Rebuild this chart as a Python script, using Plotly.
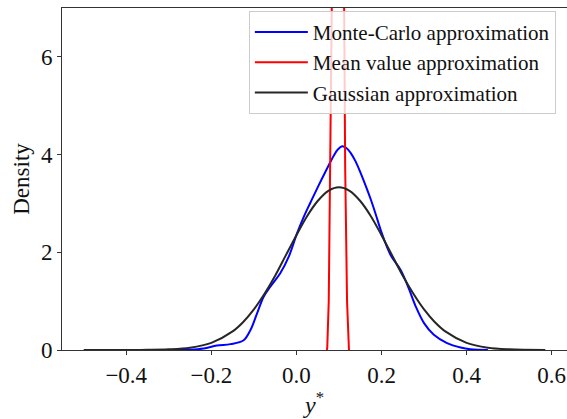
import plotly.graph_objects as go

# Monte-Carlo approximation (kernel density estimate of the samples)
mc_x = [-0.290, -0.250, -0.218, -0.187, -0.155, -0.124, -0.108, -0.0925, -0.077, -0.061,
        -0.038, -0.018, 0.0016, 0.017, 0.033, 0.050, 0.070, 0.088, 0.097, 0.1075,
        0.118, 0.127, 0.139, 0.1506, 0.162, 0.174, 0.186, 0.198, 0.221, 0.245,
        0.264, 0.280, 0.300, 0.323, 0.354, 0.386, 0.409, 0.450]
mc_y = [0.000, 0.005, 0.030, 0.090, 0.120, 0.200, 0.410, 0.750, 1.090, 1.300,
        1.570, 1.910, 2.390, 2.720, 3.020, 3.330, 3.680, 3.980, 4.100, 4.170,
        4.130, 4.040, 3.860, 3.630, 3.380, 3.100, 2.790, 2.460, 1.950, 1.640,
        1.260, 0.900, 0.550, 0.310, 0.140, 0.050, 0.015, 0.000]

# Mean value approximation (very narrow density)
mv_x = [0.0715, 0.0725, 0.0760, 0.0800, 0.0831, 0.0880, 0.0975, 0.1070, 0.1122,
        0.1146, 0.1190, 0.1224, 0.1235]
mv_y = [0.00, 0.05, 1.00, 3.75, 7.00, 18.0, 45.0, 18.0, 7.00, 3.75, 1.00, 0.05, 0.00]

# Gaussian approximation
ga_x = [-0.500, -0.400, -0.350, -0.300, -0.250, -0.200, -0.150, -0.125, -0.100, -0.075,
        -0.050, -0.025, 0.000, 0.025, 0.050, 0.075, 0.100, 0.125, 0.150, 0.175,
        0.200, 0.225, 0.250, 0.275, 0.300, 0.325, 0.350, 0.400, 0.450, 0.500, 0.585]
ga_y = [0.000, 0.001, 0.003, 0.013, 0.047, 0.146, 0.380, 0.574, 0.830, 1.150,
        1.520, 1.936, 2.350, 2.739, 3.050, 3.258, 3.330, 3.258, 3.050, 2.739,
        2.350, 1.936, 1.520, 1.150, 0.830, 0.574, 0.380, 0.146, 0.047, 0.013, 0.001]

x_ticks = [-0.4, -0.2, 0.0, 0.2, 0.4, 0.6]
x_tick_labels = ["\u22120.4", "\u22120.2", "0.0", "0.2", "0.4", "0.6"]
y_ticks = [0, 2, 4, 6]
y_tick_labels = ["0", "2", "4", "6"]

FONT = "Liberation Serif, Times New Roman, serif"
AXIS_COLOR = "#333333"
TEXT_COLOR = "#111111"

fig = go.Figure()
fig.add_trace(go.Scatter(x=mc_x, y=mc_y, mode="lines", name="Monte-Carlo approximation",
                         line=dict(color="#0000ff", width=2, shape="spline", smoothing=1.0)))
fig.add_trace(go.Scatter(x=mv_x, y=mv_y, mode="lines", name="Mean value approximation",
                         line=dict(color="#ff0000", width=2)))
fig.add_trace(go.Scatter(x=ga_x, y=ga_y, mode="lines", name="Gaussian approximation",
                         line=dict(color="#262626", width=2, shape="spline", smoothing=1.0)))

axis_common = dict(
    showline=True, linecolor=AXIS_COLOR, linewidth=1, mirror=True,
    ticks="outside", ticklen=4, tickwidth=1, tickcolor=AXIS_COLOR,
    showgrid=False, zeroline=False,
    tickfont=dict(family=FONT, size=23, color=TEXT_COLOR),
)

fig.update_layout(
    width=567, height=419,
    margin=dict(l=62, r=0, t=8, b=69),
    paper_bgcolor="white", plot_bgcolor="white",
    font=dict(family=FONT, color=TEXT_COLOR),
    xaxis=dict(range=[-0.551, 0.636], tickvals=x_ticks, ticktext=x_tick_labels,
               title=dict(text="<i>y</i><sup>*</sup>", font=dict(family=FONT, size=24),
                          standoff=0),
               **axis_common),
    yaxis=dict(range=[0, 7], tickvals=y_ticks, ticktext=y_tick_labels,
               title=dict(text="Density", font=dict(family=FONT, size=23), standoff=4),
               **axis_common),
    legend=dict(x=0.370, y=0.992, xanchor="left", yanchor="top", itemwidth=53,
                bgcolor="rgba(255,255,255,0.8)", bordercolor="#cccccc", borderwidth=1,
                font=dict(family=FONT, size=21, color=TEXT_COLOR)),
    showlegend=True,
)

fig.write_html("out.html")
